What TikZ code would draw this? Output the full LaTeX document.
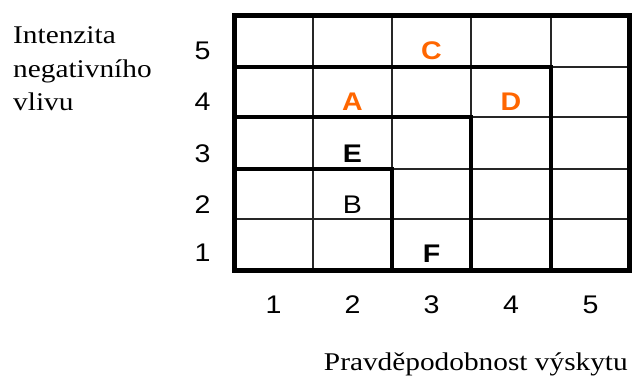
\documentclass[tikz,border=0pt]{standalone}
\usepackage{fontspec}
\setmainfont[FakeStretch=1.15]{Liberation Serif}
\setsansfont[FakeStretch=1.12]{Liberation Sans}
\definecolor{riskorange}{RGB}{255,102,0}
\begin{document}
\begin{tikzpicture}[x=1pt,y=-1pt,
  thinline/.style={line width=1.6pt, draw=black!85},
  heavyline/.style={line width=4.6pt, draw=black, line join=miter},
  border/.style={line width=5pt, draw=black, line join=miter},
  num/.style={font=\sffamily\fontsize{25.5}{25.5}\selectfont, anchor=base, inner sep=0pt},
  cell/.style={num},
  hot/.style={cell, text=riskorange, font=\sffamily\bfseries\fontsize{25.5}{25.5}\selectfont},
  strong/.style={cell, font=\sffamily\bfseries\fontsize{25.5}{25.5}\selectfont},
  axis/.style={font=\rmfamily\fontsize{25.5}{25.5}\selectfont, inner sep=0pt}
]
\useasboundingbox (0,0) rectangle (632,378);
% thin grid lines
\foreach \x in {313,392,471,551} \draw[thinline] (\x,15) -- (\x,270);
\foreach \y in {67,117,169,219} \draw[thinline] (234,\y) -- (630,\y);
% heavy staircase lines
\draw[heavyline] (234,67) -- (551,67) -- (551,270);
\draw[heavyline] (234,117) -- (471,117) -- (471,270);
\draw[heavyline] (234,169) -- (392,169) -- (392,270);
% border
\draw[border] (234,15) rectangle (629.5,270);
% row numbers
\node[num] (r5) at (202.5,59) {5};
\node[num] (r4) at (202.5,110) {4};
\node[num] (r3) at (202.5,162) {3};
\node[num] (r2) at (202.5,213) {2};
\node[num] (r1) at (202.5,261) {1};
% column numbers
\node[num] (c1) at (273.5,313) {1};
\node[num] (c2) at (352.5,313) {2};
\node[num] (c3) at (431.5,313) {3};
\node[num] (c4) at (511,313) {4};
\node[num] (c5) at (590.5,313) {5};
% risk letters
\node[hot] (C) at (431.5,59) {C};
\node[hot] (A) at (352.5,110) {A};
\node[hot] (D) at (511,110) {D};
\node[strong] (E) at (352.5,162) {E};
\node[cell] (B) at (352.5,213) {B};
\node[strong] (F) at (431.5,262) {F};
% axis labels
\node[axis, anchor=base west] (yl1) at (13,43) {Intenzita};
\node[axis, anchor=base west] (yl2) at (13,77) {negativního};
\node[axis, anchor=base west] (yl3) at (13,110) {vlivu};
\node[axis, anchor=base east] (xl) at (628,370) {Pravděpodobnost výskytu};
\end{tikzpicture}
\end{document}
